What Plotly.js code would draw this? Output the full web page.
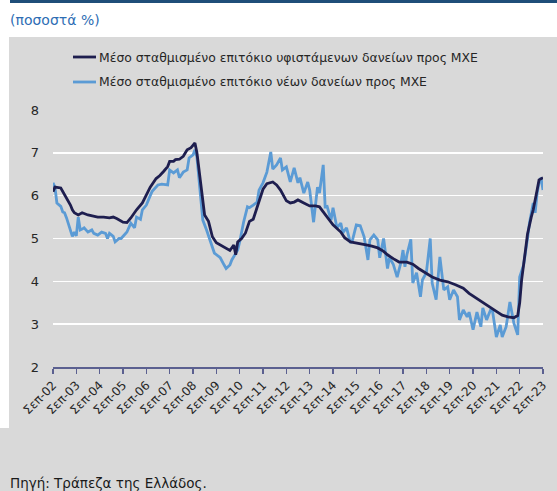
<!DOCTYPE html>
<html>
<head>
<meta charset="utf-8">
<script src="https://cdn.plot.ly/plotly-3.0.1.min.js"></script>
<style>
  html, body { margin: 0; padding: 0; background: #ffffff; }
  #frame { position: relative; width: 557px; height: 491px; overflow: hidden; background: #ffffff; font-family: "DejaVu Sans", sans-serif; }
  #topbar { position: absolute; left: 10px; top: 0; width: 547px; height: 3px; background: #1f4e79; }
  #unit { position: absolute; left: 10px; top: 12px; font-size: 14px; color: #2e6db4; white-space: nowrap; }
  #panel { position: absolute; left: 9px; top: 37px; width: 548px; height: 391px; background: #d9d9d9; }
  #foot { position: absolute; left: 0; top: 428px; width: 557px; height: 63px; background: #d9d9d9; }
  #source { position: absolute; left: 10px; top: 475px; font-size: 13.5px; color: #1a1a1a; white-space: nowrap; }
  #chart { position: absolute; left: 0; top: 0; width: 557px; height: 491px; }
</style>
</head>
<body>
<div id="frame">
  <div id="topbar"></div>
  <div id="unit">(ποσοστά %)</div>
  <div id="panel"></div>
  <div id="foot"></div>
  <div id="source">Πηγή: Τράπεζα της Ελλάδος.</div>
  <div id="chart"></div>
</div>
<script>
// Average weighted interest rate on outstanding SME loans (monthly, %)
const outstandingDates = [
  '2002-09','2002-10','2003-01','2003-04','2003-06','2003-07','2003-08','2003-10','2003-12','2004-03',
  '2004-08','2004-11','2005-02','2005-04','2005-06','2005-09','2005-11','2006-01','2006-04','2006-07',
  '2006-09','2006-11','2007-02','2007-04','2007-06','2007-08','2007-09','2007-11','2007-12','2008-02',
  '2008-04','2008-06','2008-08','2008-10','2008-11','2009-01','2009-03','2009-05','2009-07','2009-09',
  '2009-11','2010-01','2010-04','2010-06','2010-07','2010-08','2010-10','2010-12','2011-02','2011-04',
  '2011-07','2011-09','2011-11','2012-02','2012-04','2012-06','2012-09','2012-11','2013-01','2013-03',
  '2013-06','2013-09','2013-12','2014-02','2014-04','2014-06','2014-09','2015-01','2015-03','2015-06',
  '2015-09','2015-12','2016-02','2016-05','2016-08','2016-11','2017-01','2017-04','2017-07','2017-11',
  '2018-02','2018-05','2018-07','2018-10','2018-12','2019-04','2019-08','2019-12','2020-04','2020-07',
  '2020-11','2021-03','2021-06','2021-09','2021-12','2022-03','2022-06','2022-08','2022-09','2022-10',
  '2022-12','2023-01','2023-03','2023-04','2023-06','2023-07','2023-09'
];
const outstandingRates = [
  6.09, 6.20, 6.18, 5.95, 5.78, 5.67, 5.60, 5.55, 5.60, 5.55,
  5.50, 5.50, 5.48, 5.50, 5.46, 5.38, 5.37, 5.48, 5.67, 5.83,
  6.00, 6.20, 6.40, 6.47, 6.57, 6.68, 6.80, 6.80, 6.84, 6.85,
  6.92, 7.07, 7.12, 7.23, 7.00, 6.30, 5.55, 5.40, 5.04, 4.90,
  4.85, 4.78, 4.72, 4.85, 4.62, 4.92, 5.00, 5.13, 5.40, 5.45,
  5.90, 6.15, 6.28, 6.32, 6.25, 6.13, 5.88, 5.83, 5.85, 5.90,
  5.83, 5.76, 5.76, 5.74, 5.62, 5.50, 5.32, 5.15, 5.02, 4.92,
  4.90, 4.87, 4.85, 4.82, 4.78, 4.70, 4.62, 4.53, 4.45, 4.45,
  4.40, 4.30, 4.24, 4.15, 4.10, 4.03, 3.99, 3.92, 3.84, 3.72,
  3.60, 3.50, 3.40, 3.30, 3.21, 3.17, 3.15, 3.20, 3.50, 4.03,
  4.73, 5.10, 5.50, 5.67, 6.13, 6.37, 6.42
];

// Average weighted interest rate on new SME loans (monthly, %)
const newLoanDates = [
  '2002-09','2002-10','2002-11','2003-01','2003-02','2003-03','2003-04','2003-06','2003-07','2003-08',
  '2003-09','2003-10','2003-11','2003-12','2004-01','2004-03','2004-05','2004-06','2004-08','2004-10',
  '2004-12','2005-01','2005-02','2005-04','2005-05','2005-07','2005-08','2005-10','2005-11','2006-01',
  '2006-02','2006-03','2006-04','2006-06','2006-07','2006-09','2006-11','2006-12','2007-03','2007-05',
  '2007-08','2007-09','2007-11','2008-01','2008-02','2008-04','2008-06','2008-07','2008-09','2008-10',
  '2008-11','2009-01','2009-02','2009-04','2009-06','2009-08','2009-11','2009-12','2010-01','2010-02',
  '2010-04','2010-05','2010-08','2010-09','2010-11','2011-01','2011-02','2011-04','2011-06','2011-07',
  '2011-09','2011-11','2011-12','2012-01','2012-02','2012-04','2012-06','2012-07','2012-09','2012-11',
  '2013-01','2013-03','2013-04','2013-06','2013-08','2013-09','2013-11','2014-01','2014-02','2014-04',
  '2014-05','2014-06','2014-08','2014-09','2014-11','2015-01','2015-02','2015-04','2015-06','2015-07',
  '2015-09','2015-11','2016-01','2016-03','2016-04','2016-06','2016-08','2016-09','2016-11','2017-01',
  '2017-02','2017-04','2017-06','2017-08','2017-09','2017-10','2017-11','2018-01','2018-02','2018-04',
  '2018-06','2018-07','2018-09','2018-11','2018-12','2019-02','2019-04','2019-06','2019-08','2019-09',
  '2019-11','2020-01','2020-02','2020-04','2020-06','2020-07','2020-09','2020-11','2021-01','2021-02',
  '2021-04','2021-06','2021-07','2021-09','2021-11','2021-12','2022-02','2022-04','2022-06','2022-08',
  '2022-09','2022-11','2023-01','2023-02','2023-04','2023-05','2023-06','2023-07','2023-08','2023-09'
];
const newLoanRates = [
  6.30, 6.20, 5.83, 5.75, 5.62, 5.60, 5.48, 5.15, 5.05, 5.15,
  5.06, 5.50, 5.20, 5.22, 5.25, 5.15, 5.20, 5.12, 5.08, 5.15,
  5.12, 5.00, 5.12, 5.05, 4.92, 5.00, 5.00, 5.10, 5.15, 5.36,
  5.30, 5.25, 5.50, 5.45, 5.67, 5.78, 6.00, 6.10, 6.25, 6.27,
  6.25, 6.60, 6.53, 6.60, 6.42, 6.55, 6.60, 6.88, 6.95, 7.07,
  6.90, 5.97, 5.43, 5.20, 4.90, 4.66, 4.55, 4.45, 4.38, 4.30,
  4.38, 4.50, 4.73, 4.92, 5.38, 5.74, 5.72, 5.78, 5.85, 6.13,
  6.30, 6.55, 6.80, 7.02, 6.62, 6.72, 6.88, 6.60, 6.67, 6.32,
  6.65, 6.30, 6.42, 6.06, 6.32, 6.13, 5.38, 6.20, 6.06, 6.72,
  5.74, 5.75, 5.43, 5.72, 5.25, 5.36, 5.13, 5.25, 4.90, 4.95,
  5.32, 5.30, 5.04, 4.50, 4.97, 5.08, 4.97, 4.55, 5.00, 4.30,
  4.55, 4.40, 4.10, 4.45, 4.73, 4.34, 4.62, 4.98, 3.96, 4.20,
  3.64, 4.03, 4.20, 5.00, 3.96, 3.57, 4.57, 3.80, 3.87, 3.57,
  3.80, 3.64, 3.10, 3.33, 3.17, 3.28, 2.87, 3.28, 2.94, 3.38,
  3.10, 3.33, 3.33, 2.70, 2.98, 2.70, 2.94, 3.52, 3.03, 2.75,
  4.10, 4.38, 5.00, 5.36, 5.83, 5.60, 6.06, 6.30, 6.42, 6.13
];

const seriesNames = [
  'Μέσο σταθμισμένο επιτόκιο υφιστάμενων δανείων προς ΜΧΕ',
  'Μέσο σταθμισμένο επιτόκιο νέων δανείων προς ΜΧΕ'
];
const seriesColors = ['#1e1e4f', '#5b9bd5'];

// September of every year gets a tick
const tickYears = [];
for (let y = 2002; y <= 2023; y++) tickYears.push(y);
const tickVals = tickYears.map(y => y + '-09-01');
const tickText = tickYears.map(y => 'Σεπ-' + String(y).slice(2));

const toDay = d => d + '-01';

const traces = [
  {
    x: outstandingDates.map(toDay), y: outstandingRates, type: 'scatter', mode: 'lines',
    name: seriesNames[0], line: { color: seriesColors[0], width: 2.8 }
  },
  {
    x: newLoanDates.map(toDay), y: newLoanRates, type: 'scatter', mode: 'lines',
    name: seriesNames[1], line: { color: seriesColors[1], width: 2.8 }
  }
];
// draw the new-loan line underneath the outstanding-loan line
traces.reverse();

// plot area in pixels: x 53..543, y 110..367
const L = 53, R = 543, T = 110, B = 367;
const px = x => (x - L) / (R - L);
const py = y => (B - y) / (B - T);

const legendRows = [57, 82];
const shapes = legendRows.map((yy, i) => ({
  type: 'line', xref: 'paper', yref: 'paper',
  x0: px(73), x1: px(96), y0: py(yy), y1: py(yy),
  line: { color: seriesColors[i], width: 2.8 }
}));
const annotations = legendRows.map((yy, i) => ({
  xref: 'paper', yref: 'paper', x: px(97), y: py(yy),
  xanchor: 'left', yanchor: 'middle', showarrow: false,
  text: seriesNames[i],
  font: { family: 'DejaVu Sans, sans-serif', size: 12.4, color: '#262626' }
}));

const layout = {
  width: 557, height: 491,
  margin: { l: L, r: 557 - R, t: T, b: 491 - B, pad: 0 },
  paper_bgcolor: 'rgba(0,0,0,0)',
  plot_bgcolor: 'rgba(0,0,0,0)',
  showlegend: false,
  font: { family: 'DejaVu Sans, sans-serif', color: '#262626' },
  xaxis: {
    type: 'date',
    range: ['2002-09-01', '2023-09-01'],
    tickmode: 'array', tickvals: tickVals, ticktext: tickText,
    tickangle: -45,
    tickfont: { size: 12, color: '#262626' },
    showgrid: false, zeroline: false,
    showline: true, linecolor: '#5b6090', linewidth: 1.5,
    ticks: 'outside', ticklen: 5, tickcolor: '#5b6090', tickwidth: 1.5
  },
  yaxis: {
    range: [2, 8],
    tickvals: [2, 3, 4, 5, 6, 7, 8],
    tickfont: { size: 13, color: '#262626' },
    showgrid: true, gridcolor: '#ffffff', gridwidth: 1.6,
    zeroline: false, showline: false,
    ticks: '', ticklabelstandoff: 13
  },
  shapes: shapes,
  annotations: annotations
};

Plotly.newPlot('chart', traces, layout, { staticPlot: true, displayModeBar: false });
</script>
</body>
</html>
